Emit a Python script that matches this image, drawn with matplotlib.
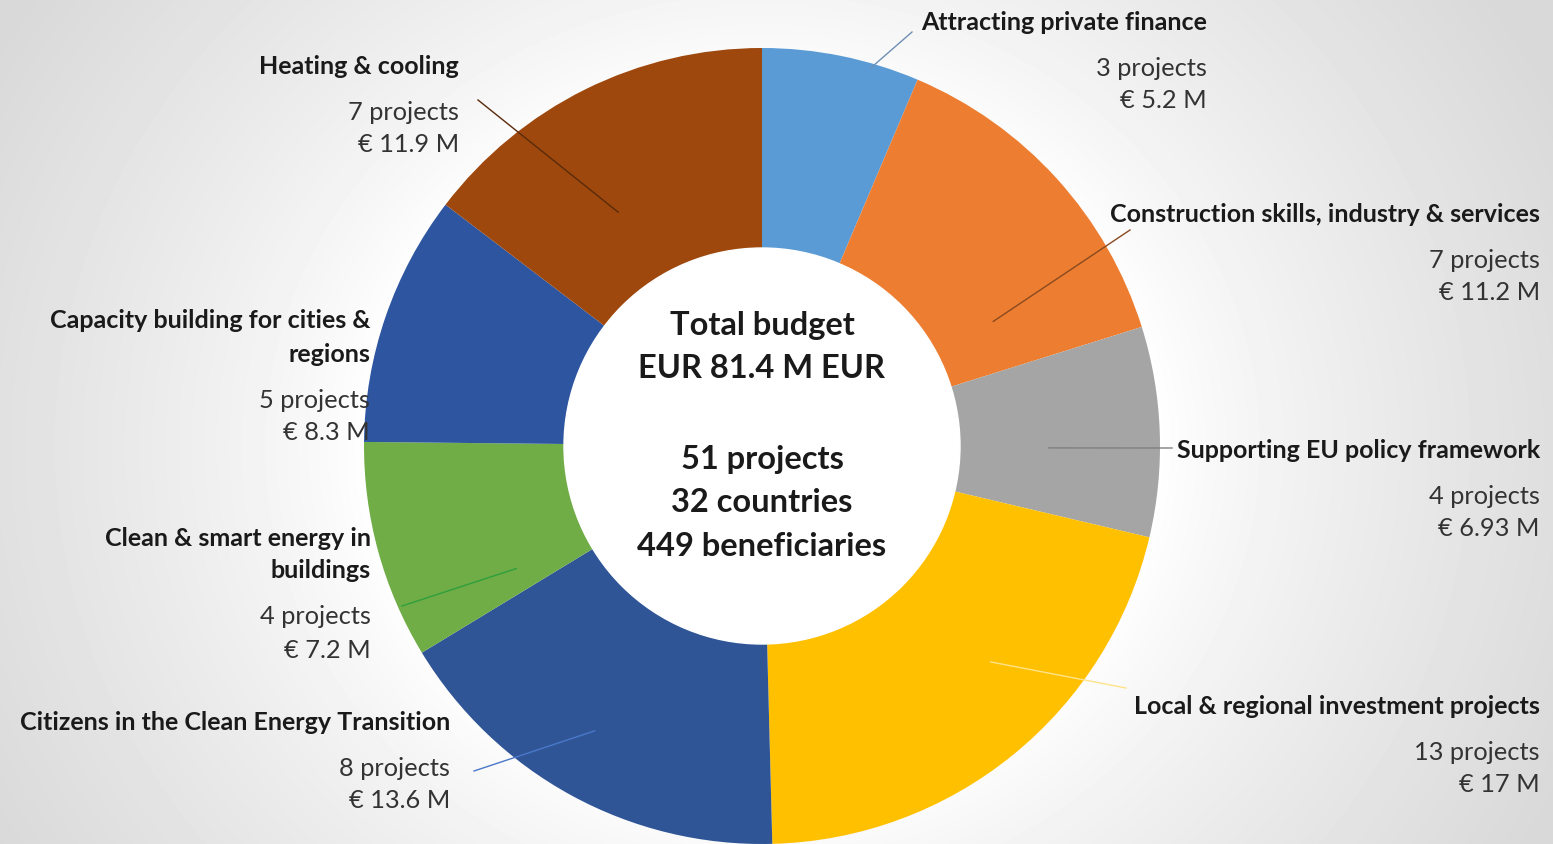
import matplotlib.pyplot as plt
import numpy as np

# budget per topic, in M EUR, clockwise from the top
topics = ['Attracting private finance', 'Construction skills, industry & services',
          'Supporting EU policy framework', 'Local & regional investment projects',
          'Citizens in the Clean Energy Transition', 'Clean & smart energy in\nbuildings',
          'Capacity building for cities &\nregions', 'Heating & cooling']
budget = [5.2, 11.2, 6.93, 17, 13.6, 7.2, 8.3, 11.9]
budget_lbl = ['5.2', '11.2', '6.93', '17', '13.6', '7.2', '8.3', '11.9']
n_projects = [3, 7, 4, 13, 8, 4, 5, 7]
colors = ['#5B9BD5', '#ED7D31', '#A5A5A5', '#FFC000', '#2F5597', '#70AD47', '#2E55A0', '#9E480E']
line_cols = ['#6f8fb5', '#8a4a20', '#808080', '#ffe38a', '#4a78c8', '#2f9f3a', None, '#5a2a0a']

centre_lines = ['Total budget', 'EUR 81.4 M EUR', '', '51 projects', '32 countries', '449 beneficiaries']

# layout (pixel positions, y from top)
W, H = 1553, 844
cx, cy, R, r_in = 762, 446, 398, 197
lbl_x = [1207, 1540, 1540, 1540, 450, 371, 370, 459]
lbl_y = [22, 214, 450, 706, 722, 538, 321, 66]
lead_frac = [0.70, 0.78, 0.58, 0.40, 0.53, 0.15, None, 0.40]
lead_r = [0.99, 0.66, 0.72, 0.79, 0.83, 0.69, None, 0.69]
lead_end = [(912, 32), (1130, 230), (1172, 448), (1126, 688), (474, 771), (402, 606), None, (478, 100)]

plt.rcParams['font.family'] = ['Lato', 'DejaVu Sans']

fig = plt.figure(figsize=(W / 100, H / 100), dpi=100)
ax = fig.add_axes([0, 0, 1, 1])

# radial grey background
yy, xx = np.mgrid[0:H, 0:W]
d = np.sqrt(((xx - cx) / 1.1) ** 2 + (yy - cy) ** 2) / 800
bg = 1 - 0.15 * np.clip((d - 0.45) / 0.55, 0, 1) ** 0.8
ax.imshow(bg, cmap='gray', vmin=0, vmax=1, extent=(0, W, 0, H), zorder=0, origin='upper')

wedges, _ = ax.pie(budget, colors=colors, startangle=90, counterclock=False,
                   center=(cx, H - cy), radius=R,
                   wedgeprops=dict(width=R - r_in, edgecolor='none', zorder=1))
ax.add_patch(plt.Circle((cx, H - cy), r_in + 1, color='white', zorder=2))

ax.set_xlim(0, W)
ax.set_ylim(0, H)
ax.set_aspect('equal')
ax.axis('off')

for i, w in enumerate(wedges):
    # leader line from inside the wedge out to the label
    if lead_frac[i] is not None:
        ang = np.radians(w.theta2 - lead_frac[i] * (w.theta2 - w.theta1))
        px = cx + lead_r[i] * R * np.cos(ang)
        py = (H - cy) + lead_r[i] * R * np.sin(ang)
        ex, ey = lead_end[i]
        ax.plot([px, ex], [py, H - ey], color=line_cols[i], lw=1.0, zorder=3)

    yv = lbl_y[i]
    for k, line in enumerate(topics[i].split('\n')):
        yv = lbl_y[i] + k * 33
        ax.text(lbl_x[i], H - yv, line, ha='right', va='center', fontsize=18,
                fontweight='bold', color='#1a1a1a', zorder=4)
    y0 = yv + 46
    ax.text(lbl_x[i], H - y0, f'{n_projects[i]} projects', ha='right', va='center',
            fontsize=18.3, color='#333333', zorder=4)
    ax.text(lbl_x[i], H - (y0 + 33), f'€ {budget_lbl[i]} M', ha='right', va='center',
            fontsize=18.3, color='#333333', zorder=4)

cy_txt = [325, 368, 0, 459, 502, 546]
for t, yv in zip(centre_lines, cy_txt):
    if t:
        ax.text(cx, H - yv, t, ha='center', va='center', fontsize=23.5,
                fontweight='bold', color='#1a1a1a', zorder=4)

fig.savefig('out.png', dpi=100)
